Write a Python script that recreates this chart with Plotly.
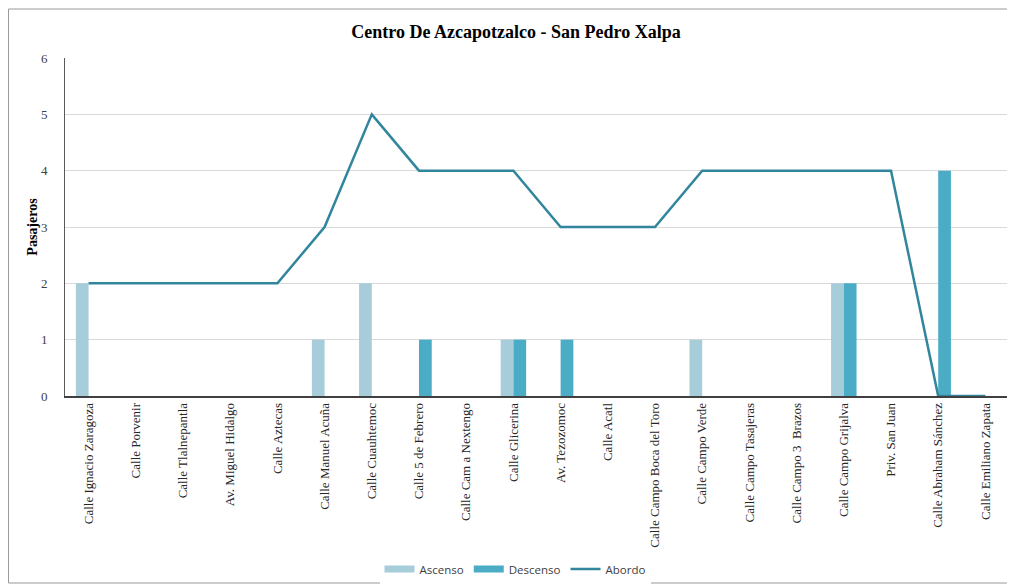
import plotly.graph_objects as go

# stops along the route
paradas = [
    "Calle Ignacio Zaragoza", "Calle Porvenir", "Calle Tlalnepantla",
    "Av. Miguel Hidalgo", "Calle Aztecas", "Calle Manuel Acuña",
    "Calle Cuauhtemoc", "Calle 5 de Febrero", "Calle Cam a Nextengo",
    "Calle Glicerina", "Av. Tezozomoc", "Calle Acatl",
    "Calle Campo Boca del Toro", "Calle Campo Verde", "Calle Campo Tasajeras",
    "Calle Campo 3  Brazos", "Calle Campo Grijalva", "Priv. San Juan",
    "Calle Abraham Sánchez", "Calle Emiliano Zapata",
]
ascenso = [2, 0, 0, 0, 0, 1, 2, 0, 0, 1, 0, 0, 0, 1, 0, 0, 2, 0, 0, 0]
descenso = [0, 0, 0, 0, 0, 0, 0, 1, 0, 1, 1, 0, 0, 0, 0, 0, 2, 0, 4, 0]
abordo = [2, 2, 2, 2, 2, 3, 5, 4, 4, 4, 3, 3, 3, 4, 4, 4, 4, 4, 0, 0]
y_ticks = [0, 1, 2, 3, 4, 5, 6]

serif = "Liberation Serif, Times New Roman, serif"
sans = "Open Sans, Noto Sans, sans-serif"
c_asc, c_desc, c_line = "#a7cddb", "#4bacc6", "#31859c"

fig = go.Figure()
fig.add_trace(go.Bar(x=paradas, y=ascenso, name="Ascenso", legendgroup="asc",
                     showlegend=False, marker=dict(color=c_asc, line_width=0)))
fig.add_trace(go.Bar(x=paradas, y=descenso, name="Descenso", legendgroup="desc",
                     showlegend=False, marker=dict(color=c_desc, line_width=0)))
fig.add_trace(go.Scatter(x=paradas, y=abordo, name="Abordo", mode="lines",
                         showlegend=False, line=dict(color=c_line, width=2.5)))

# legend entries: wide flat swatches like the original
fig.add_trace(go.Scatter(x=[None], y=[None], name="Ascenso", legendgroup="asc",
                         mode="lines", line=dict(color=c_asc, width=7)))
fig.add_trace(go.Scatter(x=[None], y=[None], name="Descenso", legendgroup="desc",
                         mode="lines", line=dict(color=c_desc, width=7)))
fig.add_trace(go.Scatter(x=[None], y=[None], name="Abordo",
                         mode="lines", line=dict(color=c_line, width=2.5)))

# the page body adds an 8px offset, so the figure is drawn 8px smaller
OFF = 8
W, H = 1015 - OFF, 588 - OFF
ml, mr, mt, mb = 65 - OFF, 6, 58 - OFF, 192
pw, ph = W - ml - mr, H - mt - mb


def px_x(v):
    return (v - OFF - ml) / pw


def px_y(v):
    return (H - mb - (v - OFF)) / ph


fig.update_layout(
    width=W, height=H,
    margin=dict(l=ml, r=mr, t=mt, b=mb),
    paper_bgcolor="white", plot_bgcolor="white",
    barmode="group", bargap=0.46, bargroupgap=0,
    title=dict(text="<b>Centro De Azcapotzalco - San Pedro Xalpa</b>",
               x=(516 - OFF) / W, xref="container", xanchor="center",
               y=1 - (32 - OFF) / H, yanchor="middle",
               font=dict(family=serif, size=18, color="#000000")),
    showlegend=True,
    legend=dict(orientation="h", x=(515 - OFF) / W, xanchor="center", xref="container",
                y=1 - (569 - OFF) / H, yanchor="middle", yref="container",
                font=dict(family=sans, size=11.5, color="#404040"),
                itemwidth=30, traceorder="normal"),
    xaxis=dict(
        tickangle=-90, tickfont=dict(family=serif, size=13, color="#262626"),
        showgrid=False, showline=True, linecolor="#404040", linewidth=1.5,
        ticks="", automargin=False,
    ),
    yaxis=dict(
        range=[0, 6], tickvals=y_ticks, tickfont=dict(family=serif, size=13, color="#404040"),
        showgrid=True, gridcolor="#d9d9d9", gridwidth=1,
        showline=True, linecolor="#595959", linewidth=1, zeroline=False,
        ticks="", ticklabelstandoff=14,
        title=dict(text="<b>Pasajeros</b>", standoff=0,
                   font=dict(family=serif, size=14, color="#000000")),
        automargin=False,
    ),
    shapes=[dict(type="rect", xref="paper", yref="paper",
                 x0=px_x(8.5), x1=px_x(1012), y0=px_y(583), y1=px_y(9),
                 line=dict(color="#9a9a9a", width=1), layer="below")],
)

fig.write_html("out.html")
